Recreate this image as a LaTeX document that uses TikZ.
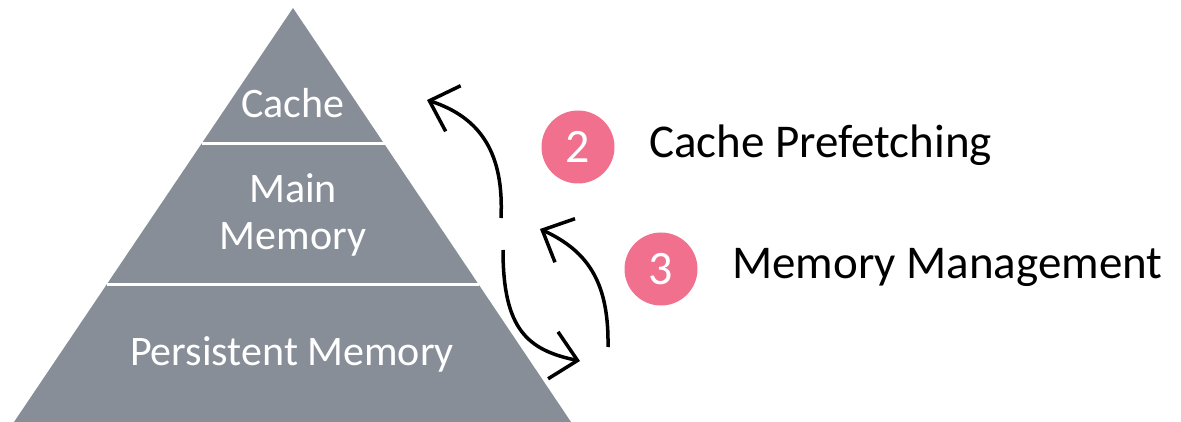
\documentclass[tikz,border=0pt]{standalone}
\usepackage{fontspec}
\setmainfont{Carlito}
\usetikzlibrary{arrows.meta}
\definecolor{tiergray}{RGB}{135,142,152}
\definecolor{badgepink}{RGB}{240,112,142}
\tikzset{>={Straight Barb[length=25pt,width=48pt]},every node/.style={inner sep=0pt},
  tier/.style={text=white,anchor=base,font=\fontsize{42}{48}\selectfont},
  badge/.style={circle,fill=badgepink,minimum size=73pt,text=white,font=\fontsize{48}{56}\selectfont},
  topic/.style={anchor=base west,font=\fontsize{47}{56}\selectfont},
  flow/.style={line width=3.5pt,->},divider/.style={white,line width=3pt}}

\begin{document}
\begin{tikzpicture}[x=1pt,y=-1pt]
\useasboundingbox (0,0) rectangle (1181,422);
% pyramid and its tiers
\fill[tiergray] (293,8)--(571,422)--(14,422)--cycle;
\draw[divider] (201.5,144)--(384.5,144);\draw[divider] (107.3,284)--(478.7,284);
\node[tier] (cache) at (293,118){Cache};
\node[tier] (main) at (293,203){Main};\node[tier] (mainmem) at (293,250){Memory};
\node[tier] (persist) at (292,365){Persistent Memory};
% numbered topics
\node[badge] (two) at (578,147){2};\node[topic] (prefetch) at (649,158){Cache Prefetching};
\node[badge] (three) at (661,269){3};\node[topic] (manage) at (732,279){Memory Management};
% arrows between the tiers
\coordinate (upA) at (501,218);\coordinate (upB) at (427,100);
\coordinate (dnA) at (503,250);\coordinate (dnB) at (580,361);
\coordinate (rtA) at (608,347);\coordinate (rtB) at (540,229);
\draw[flow] (upA) .. controls (504,155) and (482,118) .. (upB);
\draw[flow] (dnA) .. controls (503,330) and (528,350) .. (dnB);
\draw[flow] (rtA) .. controls (609,285) and (590,252) .. (rtB);
\end{tikzpicture}
\end{document}
